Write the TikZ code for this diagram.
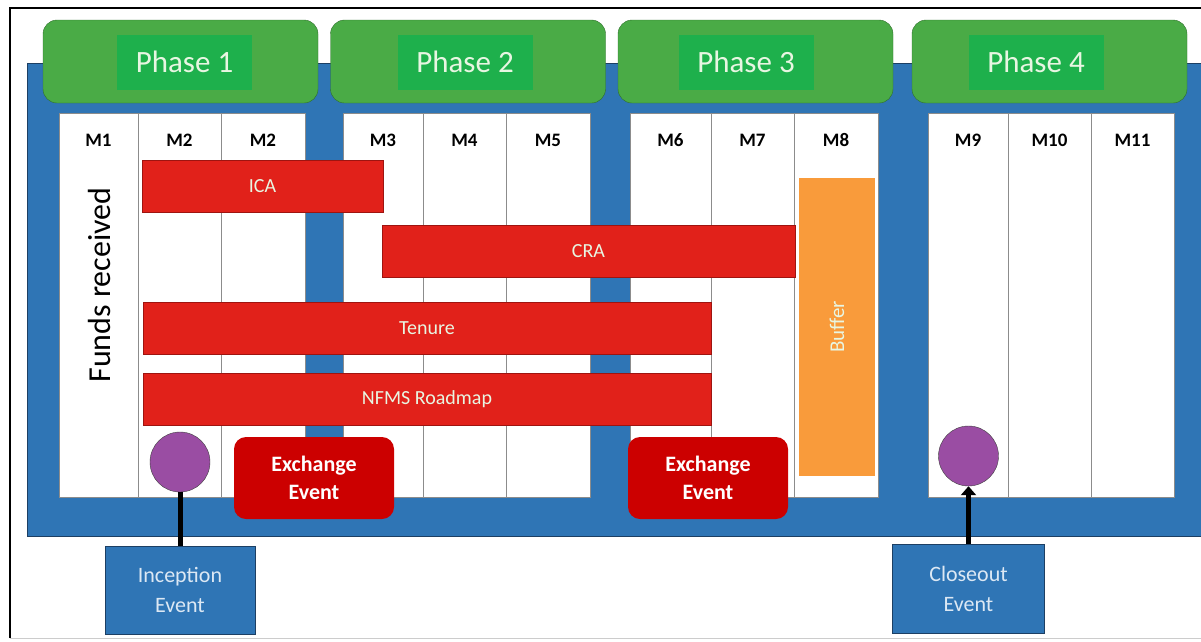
\documentclass[tikz,border=0pt]{standalone}
\usepackage{fontspec}
\setmainfont{Carlito}
\usepackage{tikz}
\usetikzlibrary{arrows.meta,positioning,shapes}

\definecolor{bluebg}{HTML}{2F75B5}
\definecolor{blueedge}{HTML}{1D3F63}
\definecolor{phasegreen}{HTML}{4AAB46}
\definecolor{phaseedge}{HTML}{2F6E2C}
\definecolor{labgreen}{HTML}{1EB04C}
\definecolor{phasetext}{HTML}{E8F6E2}
\definecolor{barred}{HTML}{E1211A}
\definecolor{bardark}{HTML}{9E1410}
\definecolor{exred}{HTML}{CC0000}
\definecolor{bufferorange}{HTML}{F99B3B}
\definecolor{mspurple}{HTML}{9A4DA3}
\definecolor{eventtext}{HTML}{DCE8F4}

\begin{document}
\begin{tikzpicture}[x=1pt,y=-1pt,
            phase/.style={draw=phaseedge,fill=phasegreen,rounded corners=14pt,minimum width=275pt,minimum height=83pt},
            phaselab/.style={fill=labgreen,text=phasetext,minimum width=135pt,minimum height=55pt,font=\fontsize{31}{36}\selectfont},
            month/.style={font=\bfseries\fontsize{19}{22}\selectfont},
            col/.style={draw=black!45,fill=white},
            bar/.style={draw=bardark,fill=barred,text=phasetext,minimum height=52pt,font=\fontsize{20}{24}\selectfont},
            exch/.style={fill=exred,text=white,rounded corners=12pt,minimum width=160pt,minimum height=82pt,align=center,font=\bfseries\fontsize{22}{28}\selectfont},
            event/.style={draw=blueedge,fill=bluebg,text=eventtext,minimum width=150pt,minimum height=88pt,align=center,font=\fontsize{22}{30}\selectfont},
            milestone/.style={circle,draw=black!75,fill=mspurple,minimum size=60pt,inner sep=0pt},
            link/.style={draw,line width=5pt}
          ]
          \useasboundingbox (0,0) rectangle (1201,641);

          %frame
          \draw[line width=1.5pt] (10,638) -- (10,8) -- (1201,8);
          \draw[black!20] (10,638) -- (1201,638);
          \draw[blueedge,fill=bluebg] (27,63) rectangle (1210,536);

          %phases
          \foreach \n/\x/\lx in {1/180.5/184.5,2/468/465,3/755.5/746,4/1049.5/1036}{
            \node[phase] (ph\n) at (\x,61.5) {};
            \node[phaselab] (phlab\n) at (\lx,62) {\raisebox{-3pt}{Phase \n}};
          }

          %months
          \foreach \l/\r/\m in {59/138/M1,138/221/M2,221/305/M2,343/423/M3,423/506/M4,506/590/M5,
                                630/711/M6,711/794/M7,794/878/M8,928/1008/M9,1008/1091/M10,1091/1174/M11}{
            \draw[col] (\l,113) rectangle (\r,497);
            \node[month] at ({(\l+\r)/2},140) {\m};
          }

          %activities
          \node[bar,minimum width=241pt] (ica) at (262.5,186) {ICA};
          \node[bar,minimum width=413pt] (cra) at (588.5,251) {CRA};
          \node[bar,minimum width=568pt] (tenure) at (427,328) {Tenure};
          \node[bar,minimum width=568pt] (nfms) at (427,399) {NFMS Roadmap};
          \node[fill=bufferorange,minimum width=76pt,minimum height=298pt] (buffer) at (837,327) {};
          \node[rotate=90,text=phasetext,font=\fontsize{21}{24}\selectfont] (buflab) at (buffer) {Buffer};
          \node[rotate=90,font=\fontsize{32}{36}\selectfont] (funds) at (100,285) {Funds received};

          %events
          \node[exch] (ex1) at (314,478) {Exchange\\Event};
          \node[exch] (ex2) at (708,478) {Exchange\\Event};
          \node[milestone] (m1) at (180,462) {};
          \node[milestone] (m2) at (968.5,456) {};
          \node[event] (inception) at (180,590) {Inception\\Event};
          \node[event,minimum width=152pt,minimum height=89pt] (closeout) at (968.5,588.5) {Closeout\\Event};
          \path[link]
          (inception) -- (m1)
          ;
          \path[link,-{Triangle[length=9pt,width=15pt]}]
          (closeout) -- (m2)
          ;

      \end{tikzpicture}
\end{document}
